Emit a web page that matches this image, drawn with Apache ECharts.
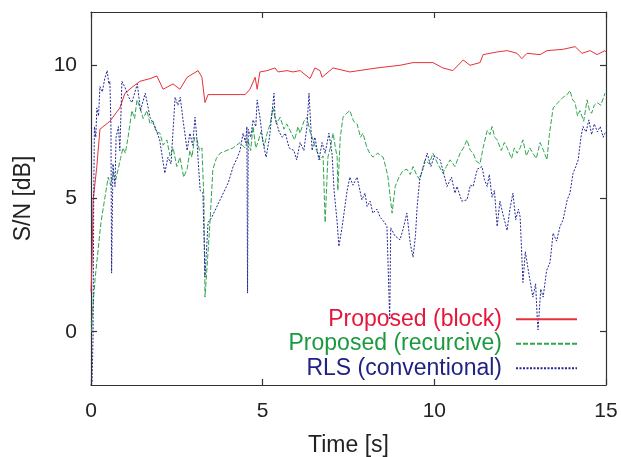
<!DOCTYPE html>
<html>
<head>
<meta charset="utf-8">
<script src="https://cdn.jsdelivr.net/npm/echarts@6/dist/echarts.min.js"></script>
<style>
  html, body { margin: 0; padding: 0; background: #fff; }
  #chart { width: 621px; height: 457px; }
</style>
</head>
<body>
<div id="chart"></div>
<script>
// [time s, S/N dB]
const redBlock = [
  [0, 1.5], [0.03, 2.6], [0.06, 4.9], [0.17, 6.2], [0.26, 7.6], [0.55, 7.9], [0.84, 8.4],
  [0.99, 8.95], [1.22, 9.2], [1.43, 9.4], [1.72, 9.5], [1.92, 9.6], [2.1, 9.1], [2.39, 9.3],
  [2.59, 9.1], [2.8, 9.55], [3.12, 9.8], [3.23, 9.55], [3.32, 8.6], [3.41, 8.9], [3.67, 8.9],
  [4.49, 8.9], [4.63, 9.1], [4.78, 9.55], [4.84, 9.1], [4.92, 9.75], [5.13, 9.8], [5.36, 9.9],
  [5.45, 9.75], [5.71, 9.8], [5.88, 9.75], [6.09, 9.8], [6.38, 9.5], [6.52, 9.9], [6.67, 9.8],
  [6.73, 9.55], [7.05, 9.9], [7.54, 9.75], [8.33, 9.9], [9.0, 10.0], [9.38, 10.1], [9.96, 10.1],
  [10.25, 9.9], [10.54, 9.8], [10.84, 10.2], [11.04, 10.0], [11.33, 10.1], [11.42, 10.4],
  [11.83, 10.5], [12.12, 10.55], [12.41, 10.45], [12.55, 10.25], [12.7, 10.45], [13.08, 10.4],
  [13.28, 10.55], [13.75, 10.6], [14.1, 10.7], [14.3, 10.45], [14.54, 10.55], [14.74, 10.4],
  [14.97, 10.55], [15, 10.5]
]

const greenRecursive = [
  [0.02, 0.0], [0.03, 0.5], [0.12, 2.0], [0.29, 4.1], [0.5, 5.8], [0.57, 5.5], [0.64, 5.95],
  [0.72, 5.7], [0.79, 6.1], [0.86, 6.5], [0.93, 6.9], [1.0, 6.7], [1.08, 7.3], [1.19, 8.3],
  [1.27, 8.0], [1.34, 8.7], [1.43, 8.4], [1.52, 8.0], [1.63, 8.3], [1.72, 7.8], [1.81, 7.9],
  [1.9, 7.5], [2.01, 7.45], [2.1, 7.0], [2.21, 7.2], [2.3, 6.6], [2.39, 6.9], [2.5, 6.2],
  [2.59, 6.55], [2.7, 5.8], [2.8, 6.1], [2.88, 6.8], [2.94, 6.55], [3.02, 7.3], [3.09, 7.2],
  [3.16, 6.8], [3.23, 6.9], [3.29, 4.95], [3.32, 1.3], [3.41, 3.0], [3.47, 4.2], [3.55, 6.1],
  [3.65, 6.5], [3.76, 6.7], [4.14, 6.9], [4.34, 7.1], [4.48, 6.9], [4.57, 7.2], [4.65, 6.8],
  [4.72, 7.7], [4.8, 6.9], [4.86, 7.1], [4.95, 7.5], [5.05, 6.95], [5.13, 7.45], [5.22, 7.8],
  [5.3, 8.4], [5.4, 7.8], [5.51, 8.05], [5.62, 7.6], [5.7, 7.8], [5.8, 7.55], [5.93, 7.2],
  [6.03, 7.7], [6.09, 7.45], [6.2, 7.9], [6.29, 8.05], [6.38, 7.5], [6.47, 7.2], [6.57, 6.8],
  [6.67, 6.45], [6.76, 6.6], [6.82, 4.1], [6.9, 6.55], [6.97, 6.9], [7.05, 7.45], [7.12, 6.9],
  [7.17, 6.55], [7.19, 5.3], [7.26, 7.3], [7.34, 8.05], [7.45, 8.2], [7.54, 8.3], [7.65, 7.9],
  [7.75, 7.8], [7.85, 7.3], [7.92, 7.45], [8.04, 6.9], [8.12, 6.7], [8.21, 6.55], [8.35, 6.7],
  [8.51, 6.55], [8.6, 6.1], [8.65, 5.8], [8.72, 5.0], [8.77, 4.45], [8.86, 5.45], [8.97, 5.8],
  [9.09, 6.05], [9.2, 6.1], [9.3, 5.9], [9.38, 6.2], [9.48, 5.9], [9.58, 5.7], [9.65, 6.1],
  [9.73, 6.45], [9.85, 6.3], [9.96, 6.7], [10.1, 6.3], [10.25, 5.95], [10.35, 6.2], [10.46, 6.45],
  [10.6, 6.2], [10.75, 6.7], [10.85, 6.9], [10.95, 7.2], [11.05, 6.8], [11.13, 6.7], [11.22, 6.4],
  [11.33, 6.3], [11.42, 6.9], [11.54, 7.55], [11.62, 7.4], [11.68, 7.7], [11.76, 7.3], [11.83, 7.2],
  [11.95, 6.8], [12.04, 7.1], [12.12, 6.9], [12.25, 6.5], [12.33, 6.9], [12.41, 6.7], [12.5, 6.9],
  [12.58, 7.2], [12.68, 6.6], [12.78, 6.9], [12.87, 6.7], [12.97, 6.5], [13.08, 7.1], [13.18, 6.8],
  [13.28, 6.45], [13.35, 7.4], [13.46, 8.4], [13.6, 8.6], [13.75, 8.8], [13.87, 8.9], [13.95, 9.05],
  [14.03, 8.7], [14.1, 8.6], [14.17, 8.1], [14.24, 8.3], [14.35, 7.9], [14.45, 8.7], [14.52, 8.3],
  [14.58, 8.2], [14.66, 8.5], [14.74, 8.6], [14.85, 8.5], [14.97, 8.95]
]

const blueRls = [
  [0, -2], [0.03, -1.9], [0.06, -0.2], [0.08, 5.2], [0.1, 7.7], [0.14, 7.3], [0.17, 8.4],
  [0.22, 8.1], [0.26, 9.2], [0.33, 9.0], [0.4, 9.5], [0.47, 9.8], [0.52, 9.3], [0.55, 9.4],
  [0.58, 7.8], [0.6, 2.2], [0.64, 6.3], [0.7, 5.45], [0.73, 7.3], [0.8, 7.7], [0.84, 6.8],
  [0.9, 9.4], [0.98, 9.2], [1.1, 8.8], [1.19, 8.6], [1.35, 9.3], [1.44, 8.3], [1.58, 8.95],
  [1.72, 8.05], [1.86, 7.7], [2.0, 7.2], [2.09, 6.45], [2.15, 5.95], [2.24, 6.55], [2.33, 6.3],
  [2.45, 8.8], [2.53, 8.5], [2.6, 8.8], [2.68, 7.95], [2.76, 7.2], [2.8, 6.8], [2.88, 7.45],
  [2.96, 7.0], [3.03, 8.05], [3.08, 7.3], [3.12, 6.45], [3.18, 5.3], [3.26, 5.2], [3.32, 2.05],
  [3.41, 4.1], [3.52, 4.3], [3.76, 4.95], [4.0, 5.6], [4.14, 6.2], [4.25, 6.5], [4.34, 6.8],
  [4.43, 7.45], [4.5, 7.1], [4.54, 7.7], [4.56, 1.45], [4.58, 7.6], [4.65, 7.3], [4.72, 7.95],
  [4.8, 7.7], [4.84, 8.7], [4.92, 8.05], [5.01, 7.1], [5.1, 6.55], [5.2, 7.3], [5.33, 8.95],
  [5.36, 8.05], [5.48, 7.5], [5.57, 7.3], [5.66, 7.45], [5.77, 6.9], [5.91, 6.8], [5.99, 6.45],
  [6.09, 7.1], [6.2, 6.8], [6.29, 7.7], [6.35, 8.95], [6.44, 6.8], [6.52, 7.3], [6.64, 6.45],
  [6.73, 7.1], [6.82, 6.7], [6.93, 7.45], [7.02, 6.7], [7.08, 5.3], [7.17, 4.1], [7.22, 3.2],
  [7.31, 3.9], [7.46, 5.3], [7.54, 5.8], [7.63, 5.5], [7.75, 5.8], [7.89, 4.95], [7.98, 5.2],
  [8.04, 4.7], [8.13, 4.9], [8.21, 4.45], [8.33, 4.6], [8.42, 4.3], [8.55, 4.1], [8.62, 3.95],
  [8.7, 0.45], [8.73, 3.9], [8.85, 3.6], [9.0, 3.45], [9.1, 3.9], [9.2, 4.45], [9.3, 3.3],
  [9.38, 2.8], [9.45, 3.6], [9.5, 4.7], [9.58, 5.8], [9.67, 6.1], [9.79, 6.7], [9.9, 6.2],
  [10.0, 6.6], [10.17, 6.45], [10.28, 5.9], [10.37, 5.45], [10.5, 5.8], [10.6, 5.2], [10.66, 5.45],
  [10.8, 4.9], [10.95, 4.95], [11.05, 5.5], [11.13, 5.45], [11.25, 6.1], [11.39, 6.2], [11.46, 5.7],
  [11.54, 5.45], [11.6, 5.9], [11.68, 5.05], [11.75, 5.3], [11.83, 3.95], [11.91, 4.9], [12.0, 4.4],
  [12.12, 3.8], [12.2, 4.6], [12.29, 5.2], [12.37, 4.2], [12.45, 4.6], [12.5, 4.3], [12.58, 1.85],
  [12.65, 3.0], [12.75, 2.2], [12.87, 1.3], [12.95, 1.8], [13.0, 0.45], [13.02, 0.07], [13.1, 1.6],
  [13.17, 1.3], [13.27, 2.3], [13.37, 2.6], [13.46, 3.7], [13.56, 3.4], [13.66, 3.95], [13.75, 4.2],
  [13.87, 4.95], [13.95, 5.2], [14.04, 5.95], [14.12, 6.2], [14.19, 6.45], [14.27, 7.3], [14.33, 7.7],
  [14.42, 7.5], [14.5, 7.95], [14.58, 7.4], [14.66, 7.8], [14.75, 7.5], [14.83, 7.7], [14.92, 7.3],
  [14.97, 7.45], [15, 7.5]
]

const yTicks = [0, 5, 10]

const FONT = '"Liberation Sans", Arial, sans-serif'
const AXIS_COLOR = '#333'

const chart = echarts.init(document.getElementById('chart'))

const tickCommon = {
  axisLine: { show: true, onZero: false, lineStyle: { color: AXIS_COLOR, width: 1.2 } },
  axisTick: { show: true, inside: true, length: 6, lineStyle: { color: AXIS_COLOR, width: 1.2 } },
  splitLine: { show: false }
}

chart.setOption({
  animation: false,
  backgroundColor: '#fff',
  grid: { left: 91, top: 12, right: 15, bottom: 72, containLabel: false, outerBoundsMode: 'none' },
  legend: {
    orient: 'vertical',
    right: 38,
    top: 302,
    align: 'right',
    itemWidth: 61,
    itemHeight: 14,
    itemGap: 0,
    itemStyle: { opacity: 0 },
    textStyle: { fontFamily: FONT, fontSize: 23, lineHeight: 24.5, padding: [0, 9, 0, 0] },
    data: [
      { name: 'Proposed (block)', textStyle: { color: '#e4173a' } },
      { name: 'Proposed (recurcive)', textStyle: { color: '#1a9a3e' } },
      { name: 'RLS (conventional)', textStyle: { color: '#1f2383' } }
    ]
  },
  xAxis: [
    {
      type: 'value', min: 0, max: 15, interval: 5, position: 'bottom',
      name: 'Time [s]', nameLocation: 'middle', nameGap: 49,
      nameTextStyle: { fontFamily: FONT, fontSize: 23, color: '#222' },
      axisLabel: { fontFamily: FONT, fontSize: 21, color: '#222', margin: 16 },
      ...tickCommon
    },
    {
      type: 'value', min: 0, max: 15, interval: 5, position: 'top',
      axisLabel: { show: false },
      ...tickCommon
    }
  ],
  yAxis: [
    {
      type: 'value', min: -2, max: 12, position: 'left',
      name: 'S/N [dB]', nameLocation: 'middle', nameGap: 56, nameRotate: 90,
      nameTextStyle: { fontFamily: FONT, fontSize: 23, color: '#222' },
      axisLabel: { fontFamily: FONT, fontSize: 21, color: '#222', margin: 14, customValues: yTicks },
      ...tickCommon,
      axisTick: { ...tickCommon.axisTick, customValues: yTicks }
    },
    {
      type: 'value', min: -2, max: 12, position: 'right',
      axisLabel: { show: false },
      ...tickCommon,
      axisTick: { ...tickCommon.axisTick, customValues: yTicks }
    }
  ],
  series: [
    {
      name: 'Proposed (block)', type: 'line', data: redBlock,
      showSymbol: false, symbol: 'none',
      lineStyle: { color: '#e8303a', width: 1 },
      itemStyle: { color: '#e8303a' }
    },
    {
      name: 'Proposed (recurcive)', type: 'line', data: greenRecursive,
      showSymbol: false, symbol: 'none',
      lineStyle: { color: '#2fa64f', width: 1, type: [5, 2] },
      itemStyle: { color: '#2fa64f' }
    },
    {
      name: 'RLS (conventional)', type: 'line', data: blueRls,
      showSymbol: false, symbol: 'none',
      lineStyle: { color: '#232894', width: 1, type: [2, 1.5] },
      itemStyle: { color: '#232894' }
    }
  ]
})
</script>
</body>
</html>
